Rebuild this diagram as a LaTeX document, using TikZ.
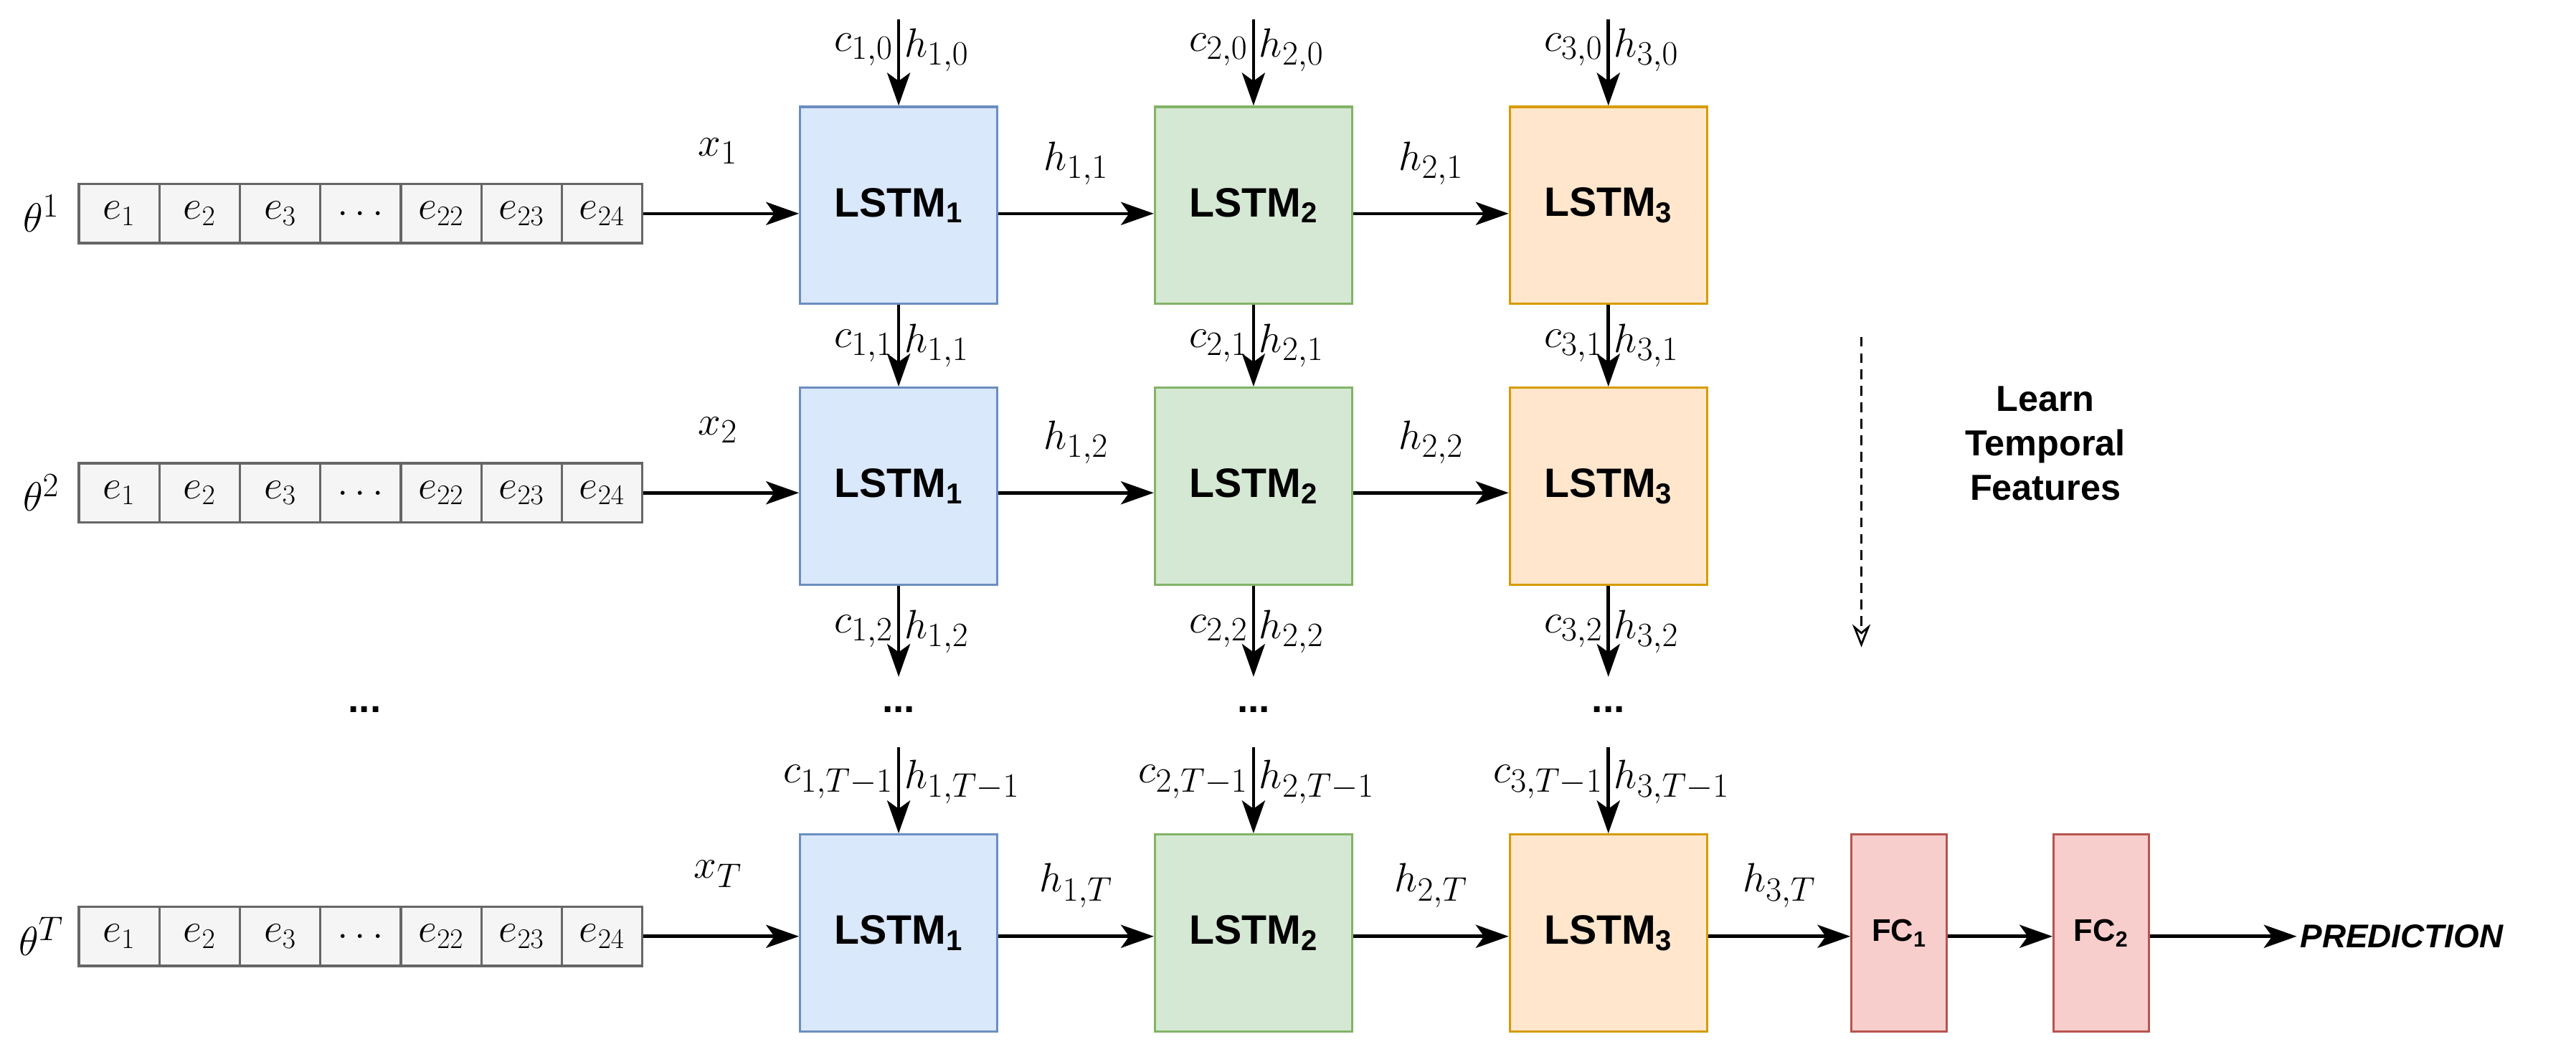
\documentclass[tikz,border=0pt]{standalone}
\usepackage{fontspec}
\setmainfont{Liberation Serif}
\newfontfamily\sans{Liberation Sans}
\usetikzlibrary{arrows.meta}
\begin{document}
\begin{tikzpicture}[x=1pt,y=-1pt,
  lbl/.style={font=\fontsize{30}{33}\selectfont,inner sep=2.5pt},
  cell/.style={draw=black!60,fill=black!4,line width=1.4pt,minimum width=49pt,minimum height=36pt,inner sep=0pt,font=\fontsize{25}{28}\selectfont},
  box/.style={line width=1.4pt,minimum width=120pt,minimum height=120pt,inner sep=0pt,font=\sans\bfseries\fontsize{25}{30}\selectfont},
  fc/.style={draw=fcd,fill=fcf,line width=1.4pt,minimum width=58pt,minimum height=120pt,inner sep=0pt,font=\sans\bfseries\fontsize{19}{22}\selectfont},
  b1/.style={box,draw=bld,fill=blf},
  b2/.style={box,draw=grd,fill=grf},
  b3/.style={box,draw=ord,fill=orf},
  arr/.style={line width=2pt,-{Stealth[length=20pt,width=14pt,inset=5pt]}},
  dots/.style={font=\sans\bfseries\fontsize{24}{28}\selectfont}]
\definecolor{blf}{HTML}{DAE8FC}\definecolor{bld}{HTML}{6C8EBF}
\definecolor{grf}{HTML}{D5E8D4}\definecolor{grd}{HTML}{82B366}
\definecolor{orf}{HTML}{FFE6CC}\definecolor{ord}{HTML}{D79B00}
\definecolor{fcf}{HTML}{F8CECC}\definecolor{fcd}{HTML}{B85450}
\useasboundingbox (0,0) rectangle (1568,643);
% rows
\foreach \r/\y/\t/\x in {1/130/1/1,2/300/2/2,3/570/T/T}{
  \node[lbl] (th\r) at (25,\y) {$\theta^{\t}$};
  \foreach \i/\e in {1/e_1,2/e_2,3/e_3,4/\ldots,5/e_{22},6/e_{23},7/e_{24}}
    \node[cell] (c\r\i) at (48+24.5+49*\i-49,\y) {$\e$};
}
\foreach \r/\y in {1/125,2/296,3/568}{
  \node[b1] (A\r) at (547,\y) {LSTM\textsubscript{1}};
  \node[b2] (B\r) at (763,\y) {LSTM\textsubscript{2}};
  \node[b3] (C\r) at (979,\y) {LSTM\textsubscript{3}};
}
\node[fc] (F1) at (1156,568) {FC\textsubscript{1}};
\node[fc] (F2) at (1279,568) {FC\textsubscript{2}};
\node[font=\sans\bfseries\itshape\fontsize{20}{24}\selectfont,anchor=west,inner sep=2pt] (P) at (1398,570) {PREDICTION};
% horizontal arrows
\foreach \r/\y/\s in {1/130/1,2/300/2,3/570/T}{
  \draw[arr] (c\r7.east) -- (A\r.west|-c\r7.east);
  \node[lbl] at (437,\y-38) {$x_{\s}$};
}
\foreach \r/\s in {1/1,2/2,3/T}{
  \draw[arr] (A\r.east|-c\r7.east) -- (B\r.west|-c\r7.east) node[lbl,midway,above=14pt] {$h_{1,\s}$};
  \draw[arr] (B\r.east|-c\r7.east) -- (C\r.west|-c\r7.east) node[lbl,midway,above=14pt] {$h_{2,\s}$};
}
\draw[arr] (C3.east|-c37.east) -- (F1.west|-c37.east) node[lbl,midway,above=14pt] {$h_{3,T}$};
\draw[arr] (F1.east|-c37.east) -- (F2.west|-c37.east);
\draw[arr] (F2.east|-c37.east) -- (P.west);
% vertical arrows
\foreach \n/\X/\k in {A/547/1,B/763/2,C/979/3}{
  \coordinate (t\n) at (\X,12);
  \draw[arr] (t\n) -- (\n1.north) node[lbl,pos=0.35,left] {$c_{\k,0}$} node[lbl,pos=0.35,right] {$h_{\k,0}$};
  \draw[arr] (\n1.south) -- (\n2.north) node[lbl,midway,left] {$c_{\k,1}$} node[lbl,midway,right] {$h_{\k,1}$};
  \coordinate (b\n) at (\X,412);
  \draw[arr] (\n2.south) -- (b\n) node[lbl,midway,left] {$c_{\k,2}$} node[lbl,midway,right] {$h_{\k,2}$};
  \node[dots] (d\n) at (\X,432) {...};
  \coordinate (u\n) at (\X,455);
  \draw[arr] (u\n) -- (\n3.north) node[lbl,pos=0.4,left] {$c_{\k,T-1}$} node[lbl,pos=0.4,right] {$h_{\k,T-1}$};
}
\node[dots] (dl) at (222,432) {...};
\node[font=\sans\bfseries\fontsize{22}{27}\selectfont,align=center] (learn) at (1245,270) {Learn\\Temporal\\Features};
\coordinate (ds) at (1133,205); \coordinate (de) at (1133,394);
\draw[line width=1.2pt,dash pattern=on 6pt off 4pt,-{Stealth[open,length=14pt,width=11pt]}] (ds) -- (de);
\end{tikzpicture}
\end{document}
